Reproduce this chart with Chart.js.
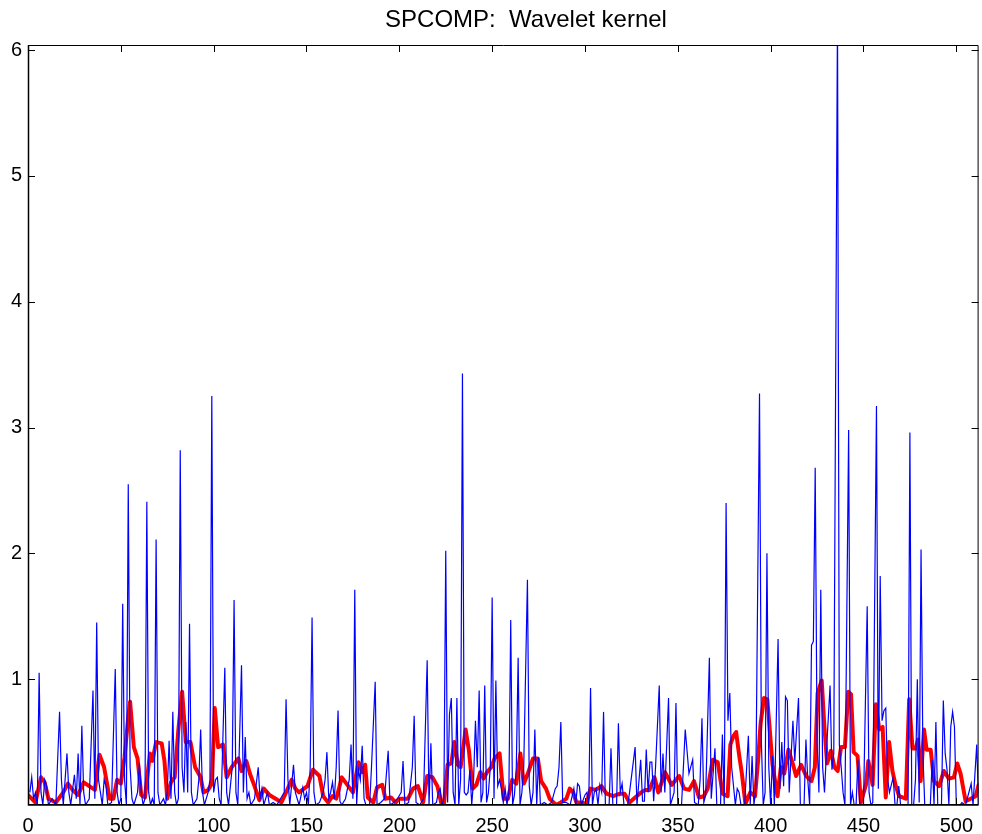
<!DOCTYPE html>
<html lang="en">
<head>
<meta charset="UTF-8">
<title>SPCOMP: Wavelet kernel</title>
<script src="https://cdn.jsdelivr.net/npm/chart.js"></script>
<style>
  html, body { margin: 0; padding: 0; background: #fff; }
</style>
</head>
<body>
<canvas id="myChart" width="982" height="834"></canvas>
<script>
// axis ticks
const xTickValues = [0, 50, 100, 150, 200, 250, 300, 350, 400, 450, 500];
const yTickValues = [1, 2, 3, 4, 5, 6];

// blue trace: [sample, value]
const bluePoints = [
  [1,0.1],[2,0.22],[3,0.05],[4,0.1],[5,0],[6,1.05],[7,0.1],[8,0],[9,0.2],[10,0.15],[11,0],[13,0.05],[15,0],
  [17,0.74],[18,0.2],[19,0],[21,0.41],[22,0.1],[23,0],[25,0.24],[26,0.05],[27,0.41],[28,0],[29,0.63],[30,0.1],
  [31,0],[33,0.05],[35,0.91],[36,0.05],[37,1.45],[38,0.2],[39,0.1],[40,0],[41,0.2],[42,0.15],[43,0],[45,0.02],
  [47,1.08],[48,0.1],[49,0],[50,0.05],[51,1.6],[52,0.2],[53,0],[54,2.55],[55,0.3],[56,0.05],[57,0],[58,0.05],
  [59,0.1],[60,0.33],[61,0.1],[62,0],[63,0.05],[64,2.41],[65,0.1],[66,0],[67,0.05],[68,0],[69,2.11],[70,0.1],
  [71,0],[73,0.05],[74,0],[75,0.1],[76,0.51],[77,0.05],[78,0.74],[79,0.1],[80,0],[81,0.05],[82,2.82],[83,0.3],
  [84,0.1],[85,0.66],[86,0.1],[87,1.44],[88,0.1],[89,0],[91,0.05],[92,0.2],[93,0.6],[94,0.1],[95,0],[97,0.1],
  [98,0.2],[99,3.25],[100,0.1],[101,0.2],[102,0.22],[103,0.05],[104,0],[106,1.09],[107,0.1],[108,0],[109,0.15],
  [110,0.3],[111,1.63],[112,0.1],[113,0],[115,1.11],[116,0.1],[117,0.54],[118,0.05],[119,0.1],[120,0],[122,0.05],
  [124,0.3],[125,0.05],[126,0.13],[127,0],[129,0.1],[130,0],[132,0.02],[134,0],[136,0.05],[138,0.1],[139,0.84],
  [140,0.2],[141,0],[143,0.32],[144,0.1],[145,0.05],[146,0],[148,0.14],[149,0.05],[150,0.1],[151,0],[152,0.3],
  [153,1.49],[154,0.1],[155,0],[157,0.02],[159,0.1],[160,0.2],[161,0.42],[162,0.05],[163,0.1],[164,0.18],
  [165,0.05],[166,0.3],[167,0.75],[168,0.03],[169,0],[171,0.05],[173,0.2],[174,0.48],[175,0.05],[176,1.71],
  [177,0],[178,0.28],[179,0.2],[180,0.47],[181,0.05],[182,0],[184,0],[185,0.3],[187,0.98],[188,0],[190,0.02],
  [192,0.05],[194,0.43],[195,0],[197,0.02],[199,0.05],[201,0.1],[202,0.35],[203,0],[205,0.02],[207,0.3],
  [208,0.71],[209,0.02],[211,0],[213,0.05],[215,1.15],[216,0],[217,0.49],[218,0],[220,0.02],[221,0.1],[222,0.13],
  [223,0],[224,0.05],[225,2.02],[226,0.02],[227,0.72],[228,0.85],[229,0.1],[230,0],[231,0.85],[232,0],[233,0.2],
  [234,3.43],[235,0.1],[236,0.08],[237,0.1],[238,0.28],[239,0],[240,0.2],[241,0.67],[242,0.3],[243,0.91],
  [244,0.02],[245,0.1],[246,0.95],[247,0.02],[248,0.1],[249,0.3],[250,1.65],[251,0.05],[252,0.99],[253,0.15],
  [254,0.2],[255,0.13],[256,0.02],[257,0.13],[258,0],[259,0.1],[260,1.47],[261,0],[262,0.08],[263,0.3],
  [264,1.17],[265,0],[266,0.1],[267,0.3],[269,1.79],[270,0.15],[271,0],[272,0.1],[273,0.6],[274,0],[275,0.38],
  [276,0],[278,0.02],[280,0],[282,0.02],[284,0.13],[285,0.15],[286,0.3],[287,0.66],[288,0.02],[290,0.02],
  [292,0],[294,0.13],[295,0],[296,0.17],[297,0.15],[298,0],[300,0.08],[301,0.1],[302,0],[303,0.93],[304,0],
  [305,0.1],[306,0.13],[307,0],[308,0.16],[309,0.1],[310,0.74],[311,0],[313,0],[314,0.45],[315,0],[317,0],
  [318,0.65],[319,0.1],[320,0.17],[321,0],[323,0],[324,0.1],[327,0.46],[328,0],[330,0.36],[331,0.03],[332,0.03],
  [333,0.44],[334,0.1],[335,0.34],[336,0.34],[337,0.03],[338,0.3],[340,0.95],[341,0.1],[342,0.41],[343,0.1],
  [345,0.85],[346,0],[348,0.1],[349,0.81],[350,0],[352,0],[354,0.6],[356,0.25],[358,0.36],[359,0.02],[361,0],
  [362,0.2],[363,0.69],[364,0.02],[365,0.08],[367,1.17],[368,0.05],[370,0.45],[371,0],[373,0],[374,0.56],
  [375,0],[376,2.4],[377,0.67],[378,0.89],[379,0.3],[381,0],[382,0.13],[383,0.1],[384,0],[386,0],[388,0.55],
  [389,0],[390,0.39],[391,0],[392,0.13],[394,3.27],[395,0.5],[396,0],[397,0.1],[398,2.0],[399,0.3],[400,0],
  [401,0.39],[402,0],[404,1.32],[405,0.13],[406,0.5],[407,0.15],[408,0.86],[409,0.83],[410,0.1],[412,0.67],
  [413,0.35],[415,0.85],[416,0],[418,0],[419,0.52],[420,0.2],[421,0],[422,1.27],[423,1.3],[424,2.68],[425,0.5],
  [426,0.1],[427,1.71],[428,0.3],[429,0.1],[430,0.41],[432,0.95],[433,0.28],[434,0.41],[436,6.3],[437,0.48],
  [438,0.3],[439,0.1],[440,0],[442,2.98],[443,0],[444,0.1],[445,0],[446,0],[447,0.36],[448,0],[450,0],
  [452,1.58],[453,0.1],[454,0],[455,0.02],[457,3.17],[458,0.13],[459,1.82],[460,0.67],[461,0.75],[462,0.77],
  [463,0.2],[464,0.1],[466,0.22],[467,0],[468,0],[469,0.15],[470,0],[472,0],[474,0],[475,2.96],[476,0],[477,0],
  [478,0.2],[479,1.0],[480,0.02],[481,2.03],[482,0.41],[483,0],[486,0],[487,0.36],[488,0],[489,0.66],[490,0],
  [492,0],[493,0.83],[494,0.41],[495,0.28],[496,0],[497,0.62],[498,0.74],[499,0.62],[500,0],[502,0],[503,0.02],
  [505,0],[508,0.17],[509,0],[511,0.48],[512,0]
];

// red (smoothed) trace: [sample, value]
const redPoints = [
  [0,0.08],[2,0.05],[4,0.02],[7,0.22],[9,0.18],[11,0.05],[15,0.02],[19,0.1],[21.5,0.17],[24,0.12],[27,0.08],
  [30,0.18],[33,0.15],[36,0.12],[38.5,0.4],[41,0.3],[44,0.05],[46,0.05],[48,0.2],[50,0.17],[52,0.38],[54,0.7],
  [55,0.82],[57,0.46],[59,0.37],[61,0.08],[63,0.06],[65.7,0.41],[67,0.35],[69,0.5],[72,0.49],[73.5,0.35],
  [75,0.05],[77,0.18],[79,0.22],[81,0.6],[83,0.9],[85,0.5],[87.5,0.5],[90,0.3],[93,0.22],[94.5,0.1],[97,0.12],
  [99,0.17],[100.6,0.77],[102.4,0.46],[105,0.48],[107,0.22],[109.7,0.3],[113.3,0.37],[115,0.27],[117.6,0.35],
  [119.5,0.25],[122,0.15],[124.6,0.04],[127,0.13],[130,0.08],[134.5,0.04],[136.5,0.02],[139,0.1],[142,0.2],
  [144,0.13],[146,0.1],[150.5,0.15],[153.5,0.28],[157,0.23],[159,0.07],[161.7,0.02],[164,0.07],[166,0.05],
  [167.5,0.13],[169,0.22],[171.5,0.17],[175,0.1],[178,0.34],[180,0.26],[181.6,0.32],[183,0.06],[186,0.02],
  [188,0.14],[190.8,0.16],[192.5,0.05],[195.5,0.06],[198,0.02],[200,0.05],[204.7,0.05],[207.4,0.13],[210,0.15],
  [212.8,0.02],[215,0.23],[217.8,0.22],[220.5,0.15],[222.5,0.02],[224,0],[226,0.32],[228,0.33],[229.6,0.5],
  [231.5,0.32],[233,0.3],[235.7,0.6],[237.5,0.43],[239.5,0.13],[241.5,0.16],[243.6,0.26],[245.4,0.21],
  [247.2,0.26],[249.5,0.3],[251.3,0.37],[254,0.41],[256.2,0.05],[258.5,0.05],[260.8,0.2],[263,0.17],
  [265.2,0.41],[267,0.17],[269,0.24],[272,0.37],[274.6,0.37],[276.4,0.19],[279,0.13],[281,0.05],[284.4,0],
  [287,0.02],[290,0.05],[291.8,0.13],[293.6,0.1],[295.4,0.02],[298,0.02],[300.8,0.01],[303,0.13],[305.7,0.12],
  [308.9,0.15],[311.6,0.09],[315.2,0.07],[318.8,0.09],[321.3,0.09],[324,0.02],[327,0.06],[330.3,0.1],
  [332.5,0.12],[334.7,0.12],[337.4,0.22],[339.5,0.1],[343.1,0.26],[346.7,0.16],[350.7,0.23],[353.4,0.13],
  [356.1,0.12],[358.7,0.19],[361.4,0.06],[364,0.07],[366.1,0.13],[368.8,0.36],[371.5,0.34],[374.1,0.09],
  [376.8,0.07],[378.3,0.48],[380,0.55],[381.4,0.58],[383,0.4],[384.5,0.25],[386.4,0.01],[389,0.1],[391.6,0.07],
  [393.2,0.35],[394.6,0.65],[396.4,0.85],[398.2,0.84],[399.5,0.6],[401,0.32],[403.7,0.07],[405.5,0.3],
  [407.3,0.25],[409.6,0.44],[411.9,0.33],[413.7,0.23],[416.4,0.32],[419.1,0.23],[422,0.19],[423.8,0.3],
  [425.3,0.89],[427.5,0.99],[428.9,0.63],[430.4,0.33],[432.5,0.43],[434.3,0.3],[436.1,0.27],[437.9,0.46],
  [440,0.46],[441.8,0.9],[443.3,0.88],[444.7,0.42],[446.8,0.39],[448.6,0.02],[451.3,0.16],[452.6,0.35],
  [454.9,0.16],[456.7,0.8],[458.5,0.6],[460.3,0.62],[462,0.06],[463.8,0.5],[465.6,0.27],[467.4,0.15],
  [469.2,0.07],[472.8,0.05],[474.6,0.84],[476.4,0.45],[478.2,0.45],[479.4,0.52],[480.8,0.19],[482.6,0.6],
  [484,0.44],[486.2,0.44],[488,0.19],[490.7,0.15],[493.3,0.27],[496,0.21],[498.7,0.22],[500.5,0.33],
  [502.3,0.25],[505,0.03],[507.7,0.05],[510.4,0.07],[512,0.16]
];

const titleText = 'SPCOMP:  Wavelet kernel';
const fontFamily = '"Liberation Sans", Helvetica, Arial, sans-serif';

// MATLAB-like box with inward ticks on all four sides, plus the title
const boxPlugin = {
  id: 'boxTicks',
  afterDraw(chart) {
    const { ctx, chartArea: { left, right, top, bottom }, scales: { x, y } } = chart;
    const tl = 7;
    ctx.save();
    ctx.strokeStyle = '#000';
    ctx.lineWidth = 1;
    ctx.beginPath();
    ctx.rect(left + 0.5, top + 0.5, right - left - 1, bottom - top - 1);
    xTickValues.forEach(v => {
      const px = Math.round(x.getPixelForValue(v)) + 0.5;
      ctx.moveTo(px, bottom); ctx.lineTo(px, bottom - tl);
      ctx.moveTo(px, top); ctx.lineTo(px, top + tl);
    });
    yTickValues.forEach(v => {
      const py = Math.round(y.getPixelForValue(v)) + 0.5;
      ctx.moveTo(left, py); ctx.lineTo(left + tl, py);
      ctx.moveTo(right, py); ctx.lineTo(right - tl, py);
    });
    ctx.stroke();
    ctx.lineWidth = 1.5;
    ctx.beginPath();
    ctx.moveTo(left + 0.5, top); ctx.lineTo(left + 0.5, bottom);
    ctx.lineTo(right, bottom);
    ctx.stroke();

    // title
    ctx.fillStyle = '#000';
    ctx.font = '24px ' + fontFamily;
    ctx.textAlign = 'center';
    ctx.textBaseline = 'middle';
    ctx.fillText(titleText, 526, 20);
    ctx.restore();
  }
};

const toXY = pts => pts.map(([x, y]) => ({ x, y }));

new Chart(document.getElementById('myChart').getContext('2d'), {
  type: 'line',
  data: {
    datasets: [
      {
        label: 'signal',
        data: toXY(bluePoints),
        borderColor: '#0000ff',
        borderWidth: 1.2,
        pointRadius: 0,
        tension: 0,
        order: 0
      },
      {
        label: 'smoothed',
        data: toXY(redPoints),
        borderColor: '#ff0000',
        borderWidth: 4,
        pointRadius: 0,
        tension: 0,
        borderJoinStyle: 'round',
        borderCapStyle: 'round',
        order: 1
      }
    ]
  },
  options: {
    responsive: false,
    animation: false,
    layout: { padding: { left: 0, right: 0, top: 45, bottom: 0 } },
    plugins: {
      legend: { display: false },
      tooltip: { enabled: false },
      title: { display: false }
    },
    scales: {
      x: {
        type: 'linear',
        min: 0,
        max: 512,
        grid: { display: false, drawTicks: false },
        border: { display: false },
        afterBuildTicks: s => { s.ticks = xTickValues.map(v => ({ value: v })); },
        afterFit: s => { s.height = 29; },
        ticks: {
          color: '#000',
          padding: 9,
          maxRotation: 0,
          autoSkip: false,
          font: { family: fontFamily, size: 20 }
        }
      },
      y: {
        min: 0,
        max: 6.04,
        grid: { display: false, drawTicks: false },
        border: { display: false },
        afterBuildTicks: s => { s.ticks = yTickValues.map(v => ({ value: v })); },
        afterFit: s => { s.width = 28; },
        ticks: {
          color: '#000',
          padding: 6,
          font: { family: fontFamily, size: 20 }
        }
      }
    }
  },
  plugins: [boxPlugin]
});
</script>
</body>
</html>
